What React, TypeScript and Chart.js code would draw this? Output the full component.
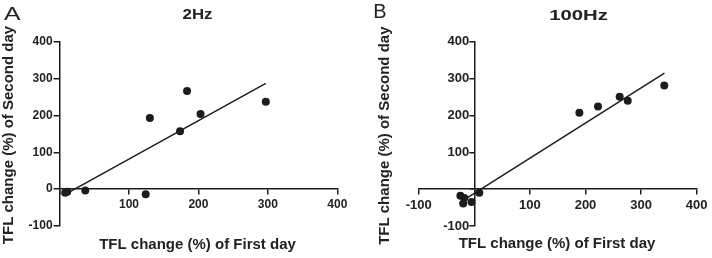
import React, { useEffect, useRef } from "react";
import { Chart, registerables } from "chart.js";

Chart.register(...registerables);

// ---- data ----
const panelLetters = ["A", "B"];
const panelTitles = ["2Hz", "100Hz"];
const xAxisTitle = "TFL change (%) of First day";
const yAxisTitle = "TFL change (%) of Second day";

const yTickValues = [-100, 0, 100, 200, 300, 400];
const xTickValues2Hz = [0, 100, 200, 300, 400];
const xTickValues100Hz = [-100, 0, 100, 200, 300, 400];

const firstDay2Hz = [8, 11, 37, 124, 130, 173.5, 183.6, 203, 297];
const secondDay2Hz = [-10, -7, -4, -14, 193, 157, 266, 204, 237];
const fitFirstDay2Hz = [10, 297];
const fitSecondDay2Hz = [-12, 287];

const firstDay100Hz = [-25, -18, -20, -5, 9, 189, 222.5, 261.5, 276, 341.7];
const secondDay100Hz = [-18, -24, -39, -35, -10, 207, 224, 250.5, 240, 281];
const fitFirstDay100Hz = [-25, 342];
const fitSecondDay100Hz = [-35, 315];

// ---- styling ----
const INK = "#1c1c1c";
const TEXT = "#222222";
const FONT = "'Liberation Sans', Arial, Helvetica, sans-serif";
const Y_AXIS_BOX = 44;

type TextSpec = {
  text: string;
  x: number;
  y: number;
  size: number;
  weight: string;
  sx?: number;
  rotate?: boolean;
  align?: CanvasTextAlign;
};

function drawText(ctx: CanvasRenderingContext2D, t: TextSpec) {
  ctx.save();
  ctx.translate(t.x, t.y);
  if (t.rotate) ctx.rotate(-Math.PI / 2);
  ctx.scale(t.sx ?? 1, 1);
  ctx.font = `${t.weight} ${t.size}px ${FONT}`;
  ctx.fillStyle = TEXT;
  ctx.textAlign = t.align ?? "center";
  ctx.textBaseline = "alphabetic";
  ctx.fillText(t.text, 0, 0);
  ctx.restore();
}

type PanelSpec = {
  xs: number[];
  ys: number[];
  fitX: number[];
  fitY: number[];
  xTicks: number[];
  hideX: number[];
  hideY: number[];
  xMin: number;
  xMax: number;
  areaLeft: number;
  padding: { right: number; top: number; bottom: number };
  tickSize: number;
  yTickLen: number;
  yTickPad: number;
  texts: TextSpec[];
};

const panels: PanelSpec[] = [
  {
    xs: firstDay2Hz,
    ys: secondDay2Hz,
    fitX: fitFirstDay2Hz,
    fitY: fitSecondDay2Hz,
    xTicks: xTickValues2Hz,
    hideX: [0],
    hideY: [],
    xMin: xTickValues2Hz[0],
    xMax: xTickValues2Hz[xTickValues2Hz.length - 1],
    areaLeft: 59.6,
    padding: { right: 18.7, top: 41.7, bottom: 32 },
    tickSize: 12,
    yTickLen: 6,
    yTickPad: 1,
    texts: [
      { text: panelLetters[0], x: 4, y: 20, size: 19, weight: "normal", sx: 1.3, align: "left" },
      { text: panelTitles[0], x: 197.5, y: 19, size: 14, weight: "bold", sx: 1.2 },
      { text: xAxisTitle, x: 197.5, y: 249, size: 15, weight: "bold" },
      { text: yAxisTitle, x: 13.3, y: 135, size: 15, weight: "bold", rotate: true },
    ],
  },
  {
    xs: firstDay100Hz,
    ys: secondDay100Hz,
    fitX: fitFirstDay100Hz,
    fitY: fitSecondDay100Hz,
    xTicks: xTickValues100Hz,
    hideX: [0],
    hideY: [0],
    xMin: xTickValues100Hz[0],
    xMax: xTickValues100Hz[xTickValues100Hz.length - 1],
    areaLeft: 62.7,
    padding: { right: 15.3, top: 41.7, bottom: 32 },
    tickSize: 13,
    yTickLen: 5,
    yTickPad: 0,
    texts: [
      { text: panelLetters[1], x: 17.3, y: 18.3, size: 20, weight: "normal", align: "left" },
      { text: panelTitles[1], x: 222.5, y: 20, size: 14, weight: "bold", sx: 1.45 },
      { text: xAxisTitle, x: 201, y: 248, size: 15, weight: "bold" },
      { text: yAxisTitle, x: 32.5, y: 135.7, size: 15, weight: "bold", rotate: true },
    ],
  },
];

function Panel({ spec }: { spec: PanelSpec }) {
  const ref = useRef<HTMLCanvasElement | null>(null);

  useEffect(() => {
    if (!ref.current) return;
    const textPlugin = {
      id: "panelText",
      afterDraw(chart: Chart) {
        const ctx = chart.ctx;
        spec.texts.forEach((t) => drawText(ctx, t));
      },
    };
    // put the y axis where x = 0 (crossing axes)
    const crossPlugin = {
      id: "crossYAxis",
      afterLayout(chart: any) {
        const ys = chart.scales.y;
        const xs = chart.scales.x;
        const px = xs.getPixelForValue(0);
        const w = ys.width;
        ys.right = px;
        ys.left = px - w;
      },
    };
    const tickFont = { family: FONT, size: spec.tickSize, weight: "bold" as const };
    const chart = new Chart(ref.current, {
      type: "scatter",
      data: {
        datasets: [
          {
            data: spec.xs.map((x, i) => ({ x, y: spec.ys[i] })),
            pointRadius: 4,
            pointBackgroundColor: INK,
            pointBorderWidth: 0,
            showLine: false,
          },
          {
            data: spec.fitX.map((x, i) => ({ x, y: spec.fitY[i] })),
            showLine: true,
            pointRadius: 0,
            borderColor: INK,
            borderWidth: 1.5,
            fill: false,
          },
        ],
      },
      options: {
        animation: false,
        responsive: false,
        devicePixelRatio: 1,
        layout: {
          padding: {
            left: spec.areaLeft - Y_AXIS_BOX,
            right: spec.padding.right,
            top: spec.padding.top,
            bottom: spec.padding.bottom,
          },
        },
        plugins: {
          legend: { display: false },
          tooltip: { enabled: false },
          title: { display: false },
        },
        scales: {
          x: {
            type: "linear",
            position: { y: 0 } as any,
            min: spec.xMin,
            max: spec.xMax,
            afterBuildTicks: (scale: any) => {
              scale.ticks = spec.xTicks.map((v) => ({ value: v }));
            },
            grid: {
              drawOnChartArea: false,
              drawTicks: true,
              tickLength: 5,
              color: INK,
              lineWidth: 1.5,
            },
            border: { display: true, color: INK, width: 1.5 },
            ticks: {
              font: tickFont,
              color: TEXT,
              padding: 3,
              maxRotation: 0,
              autoSkip: false,
              callback: (v: any) => (spec.hideX.includes(Number(v)) ? "" : String(v)),
            },
          },
          y: {
            type: "linear",
            position: "left",
            min: yTickValues[0],
            max: yTickValues[yTickValues.length - 1],
            afterBuildTicks: (scale: any) => {
              scale.ticks = yTickValues.map((v) => ({ value: v }));
            },
            afterFit: (scale: any) => {
              scale.width = Y_AXIS_BOX;
            },
            grid: {
              drawOnChartArea: false,
              drawTicks: true,
              tickLength: spec.yTickLen,
              color: INK,
              lineWidth: 1.5,
            },
            border: { display: true, color: INK, width: 1.5 },
            ticks: {
              font: tickFont,
              color: TEXT,
              padding: spec.yTickPad,
              autoSkip: false,
              callback: (v: any) => (spec.hideY.includes(Number(v)) ? "" : String(v)),
            },
          },
        },
      },
      plugins: [crossPlugin, textPlugin],
    });
    return () => chart.destroy();
  }, [spec]);

  return <canvas ref={ref} width={356} height={258} style={{ display: "block", width: 356, height: 258 }} />;
}

export default function App() {
  return (
    <div
      style={{
        position: "absolute",
        left: 0,
        top: 0,
        width: 712,
        height: 258,
        display: "flex",
        background: "#ffffff",
      }}
    >
      {panels.map((p, i) => (
        <Panel key={i} spec={p} />
      ))}
    </div>
  );
}
